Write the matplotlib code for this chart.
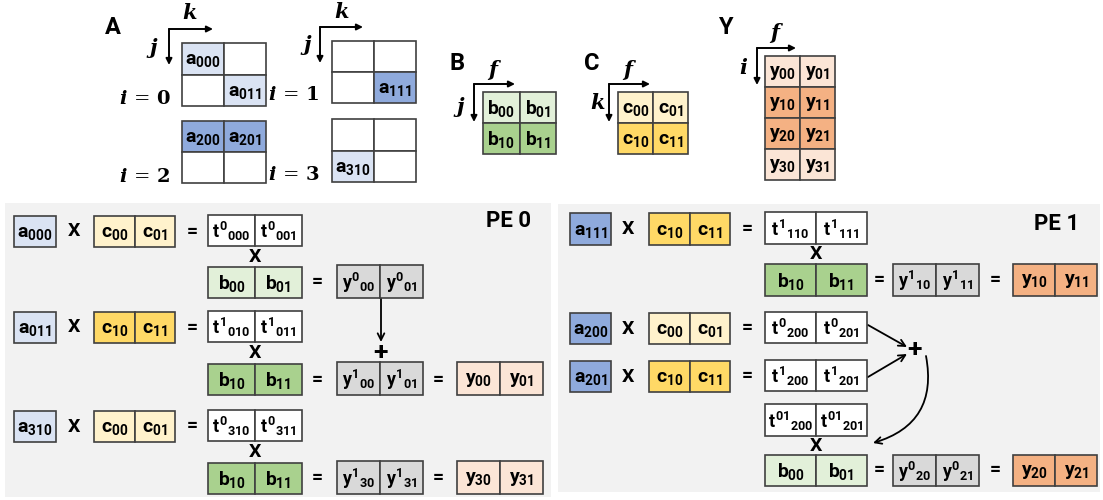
import matplotlib
matplotlib.use("Agg")
import matplotlib.pyplot as plt
from matplotlib.patches import Rectangle, FancyArrowPatch

SANS = 'Roboto'
plt.rcParams['mathtext.fontset'] = 'custom'
plt.rcParams['mathtext.rm'] = f'{SANS}:bold'
plt.rcParams['mathtext.it'] = f'{SANS}:bold'
plt.rcParams['mathtext.bf'] = f'{SANS}:bold'

# colours
WH = '#ffffff'
LB, MB = '#dae3f3', '#8faadc'
LG, GG = '#e2f0d9', '#a9d18e'
LY, YY = '#fff2cc', '#ffd966'
LP, OR = '#fbe5d6', '#f4b183'
GR = '#d9d9d9'
PANEL = '#f2f2f2'
EDGE = '#404040'

# ---- data: tensors ----
A_labels = {0: [['a_{000}', ''], ['', 'a_{011}']],
            1: [['', ''], ['', 'a_{111}']],
            2: [['a_{200}', 'a_{201}'], ['', '']],
            3: [['', ''], ['a_{310}', '']]}
A_colors = {0: [[LB, WH], [WH, LB]],
            1: [[WH, WH], [WH, MB]],
            2: [[MB, MB], [WH, WH]],
            3: [[WH, WH], [LB, WH]]}
B_labels = [['b_{00}', 'b_{01}'], ['b_{10}', 'b_{11}']]
B_colors = [[LG, LG], [GG, GG]]
C_labels = [['c_{00}', 'c_{01}'], ['c_{10}', 'c_{11}']]
C_colors = [[LY, LY], [YY, YY]]
Y_labels = [['y_{00}', 'y_{01}'], ['y_{10}', 'y_{11}'],
            ['y_{20}', 'y_{21}'], ['y_{30}', 'y_{31}']]
Y_colors = [[LP, LP], [OR, OR], [OR, OR], [LP, LP]]

# ---- data: PE 0 ----
pe0_a = ['a_{000}', 'a_{011}', 'a_{310}']
pe0_c = [['c_{00}', 'c_{01}'], ['c_{10}', 'c_{11}'], ['c_{00}', 'c_{01}']]
pe0_t = [['t^{0}{}_{000}', 't^{0}{}_{001}'], ['t^{1}{}_{010}', 't^{1}{}_{011}'],
         ['t^{0}{}_{310}', 't^{0}{}_{311}']]
pe0_b = [['b_{00}', 'b_{01}'], ['b_{10}', 'b_{11}'], ['b_{10}', 'b_{11}']]
pe0_yp = [['y^{0}{}_{00}', 'y^{0}{}_{01}'], ['y^{1}{}_{00}', 'y^{1}{}_{01}'],
          ['y^{1}{}_{30}', 'y^{1}{}_{31}']]
pe0_y = [None, ['y_{00}', 'y_{01}'], ['y_{30}', 'y_{31}']]

# ---- data: PE 1 ----
pe1_a = ['a_{111}', 'a_{200}', 'a_{201}']
pe1_c = [['c_{10}', 'c_{11}'], ['c_{00}', 'c_{01}'], ['c_{10}', 'c_{11}']]
pe1_t = [['t^{1}{}_{110}', 't^{1}{}_{111}'], ['t^{0}{}_{200}', 't^{0}{}_{201}'],
         ['t^{1}{}_{200}', 't^{1}{}_{201}']]
pe1_tsum = ['t^{01}{}_{200}', 't^{01}{}_{201}']
pe1_b = [['b_{10}', 'b_{11}'], ['b_{00}', 'b_{01}']]
pe1_yp = [['y^{1}{}_{10}', 'y^{1}{}_{11}'], ['y^{0}{}_{20}', 'y^{0}{}_{21}']]
pe1_y = [['y_{10}', 'y_{11}'], ['y_{20}', 'y_{21}']]

FS = 14

fig = plt.figure(figsize=(11.03, 5.0), dpi=100)
ax = fig.add_axes([0, 0, 1, 1])
ax.set_xlim(0, 1103)
ax.set_ylim(500, 0)
ax.axis('off')


def cell(x0, y0, w, h, fc, label, lw=1.2, ec=EDGE, fs=FS):
    ax.add_patch(Rectangle((x0, y0), w, h, fc=fc, ec=ec, lw=lw, zorder=2))
    if label:
        ax.text(x0 + w / 2, y0 + h / 2 + 1, f'${label}$', ha='center', va='center',
                fontsize=fs, zorder=3)


def row(x0, x1, y0, y1, colors, labels, fs=FS):
    n = len(labels)
    w = (x1 - x0) / n
    for k in range(n):
        cell(x0 + k * w, y0, w, y1 - y0, colors[k], labels[k], fs=fs)


def grid(x0, x1, y0, y1, colors, labels):
    nr = len(labels)
    h = (y1 - y0) / nr
    for r in range(nr):
        row(x0, x1, y0 + r * h, y0 + (r + 1) * h, colors[r], labels[r])


def axes_arrow(cx, cy, x2, y2, lab_top, lab_left, top_xy, left_xy):
    for end in [(x2, cy), (cx, y2)]:
        ax.add_patch(FancyArrowPatch((cx, cy), end, arrowstyle='-|>', mutation_scale=9,
                                     lw=1.4, color='black', shrinkA=0, shrinkB=0))
    for lab, xy in [(lab_top, top_xy), (lab_left, left_xy)]:
        ax.text(xy[0], xy[1], lab, ha='center', va='center', fontsize=15,
                family='DejaVu Serif', style='italic', weight='bold')


def op(x, y, s, fs=14):
    ax.text(x, y, s, ha='center', va='center', fontsize=fs, weight='bold', family=SANS)


def panel_label(x, y, s):
    ax.text(x, y, s, ha='center', va='center', fontsize=17, weight='bold', family=SANS)


# ---------------- top: tensors ----------------
panel_label(113, 27, 'A')
A_pos = {0: (182, 266, 43, 106), 1: (332, 416, 41, 103),
         2: (182, 266, 121, 183), 3: (332, 416, 119, 182)}
i_pos = {0: (145, 98), 1: (294, 95), 2: (145, 176), 3: (294, 174)}
for i in range(4):
    grid(*A_pos[i], A_colors[i], A_labels[i])
    ax.text(*i_pos[i], rf'$\mathbfit{{i}}\,=\,\mathbf{{{i}}}$', ha='center', va='center',
            fontsize=14, math_fontfamily='dejavuserif')
axes_arrow(169, 29, 213, 65, 'k', 'j', (190, 13), (153, 48))
axes_arrow(320, 27, 363, 63, 'k', 'j', (342, 12), (307, 45))

panel_label(457, 63, 'B')
grid(483, 556, 92, 154, B_colors, B_labels)
axes_arrow(474, 84, 515, 122, 'f', 'j', (493, 70), (460, 107))

panel_label(592, 63, 'C')
grid(618, 688, 92, 154, C_colors, C_labels)
axes_arrow(609, 84, 650, 122, 'f', 'k', (628, 70), (598, 103))

panel_label(725, 28, 'Y')
grid(765, 835, 56, 180, Y_colors, Y_labels)
axes_arrow(757, 48, 796, 85, 'f', 'i', (775, 33), (743, 68))

# ---------------- PE 0 ----------------
ax.add_patch(Rectangle((5, 203), 546, 294, fc=PANEL, ec='none', zorder=0))
ax.text(509, 221, 'PE 0', ha='center', va='center', fontsize=16, weight='bold', family=SANS)
rows_top = [(216, 247), (312, 343), (411, 442)]
rows_b = [(267, 298), (364, 395), (463, 494)]
for r in range(3):
    y0, y1 = rows_top[r]
    ym = (y0 + y1) / 2
    cell(14, y0, 42, y1 - y0, LB, pe0_a[r])
    op(74, ym, 'X')
    row(94, 175, y0, y1, [LY, LY] if pe0_c[r][0] == 'c_{00}' else [YY, YY], pe0_c[r])
    op(192, ym, '=')
    row(208, 302, y0 - 1, y1 - 1, [WH, WH], pe0_t[r], fs=13)
    op(255, y1 + 10, 'X')
    b0, b1 = rows_b[r]
    bm = (b0 + b1) / 2
    row(208, 302, b0, b1, [LG, LG] if pe0_b[r][0] == 'b_{00}' else [GG, GG], pe0_b[r])
    op(317, bm, '=')
    row(337, 423, b0 - 2, b1, [GR, GR], pe0_yp[r], fs=13)
    if pe0_y[r] is not None:
        op(438, bm, '=')
        row(457, 543, b0 - 2, b1, [LP, LP], pe0_y[r])
ax.add_patch(FancyArrowPatch((381, 298), (381, 342), arrowstyle='->', mutation_scale=12,
                             lw=1.3, color='black', shrinkA=0, shrinkB=0))
op(381, 353, '+', fs=19)

# ---------------- PE 1 ----------------
ax.add_patch(Rectangle((558, 204), 542, 288, fc=PANEL, ec='none', zorder=0))
ax.text(1057, 224, 'PE 1', ha='center', va='center', fontsize=16, weight='bold', family=SANS)
rows_top1 = [(213, 245), (313, 344), (361, 392)]
for r in range(3):
    y0, y1 = rows_top1[r]
    ym = (y0 + y1) / 2
    cell(570, y0, 41, y1 - y0, MB, pe1_a[r])
    op(628, ym, 'X')
    row(649, 730, y0, y1, [LY, LY] if pe1_c[r][0] == 'c_{00}' else [YY, YY], pe1_c[r])
    op(747, ym, '=')
    row(765, 867, y0 - 1, y1 - 1, [WH, WH], pe1_t[r], fs=13)

rows_b1 = [(264, 296), (455, 486)]
for r in range(2):
    b0, b1 = rows_b1[r]
    bm = (b0 + b1) / 2
    row(765, 867, b0, b1, [GG, GG] if pe1_b[r][0] == 'b_{10}' else [LG, LG], pe1_b[r])
    op(879, bm, '=')
    row(893, 979, b0, b1, [GR, GR], pe1_yp[r], fs=13)
    op(995, bm, '=')
    row(1013, 1097, b0, b1, [OR, OR], pe1_y[r])
op(816, 254, 'X')
row(765, 867, 404, 436, [WH, WH], pe1_tsum, fs=13)
op(816, 446, 'X')

op(914, 350, '+', fs=19)
for p0, p1 in [((868, 325), (907, 347)), ((868, 377), (907, 354))]:
    ax.add_patch(FancyArrowPatch(p0, p1, arrowstyle='->', mutation_scale=12,
                                 lw=1.3, color='black', shrinkA=0, shrinkB=0))
ax.add_patch(FancyArrowPatch((926, 356), (873, 443), arrowstyle='->', mutation_scale=12,
                             lw=1.3, color='black', shrinkA=0, shrinkB=0,
                             connectionstyle='arc3,rad=-0.45'))

fig.savefig('out.png', dpi=100)
